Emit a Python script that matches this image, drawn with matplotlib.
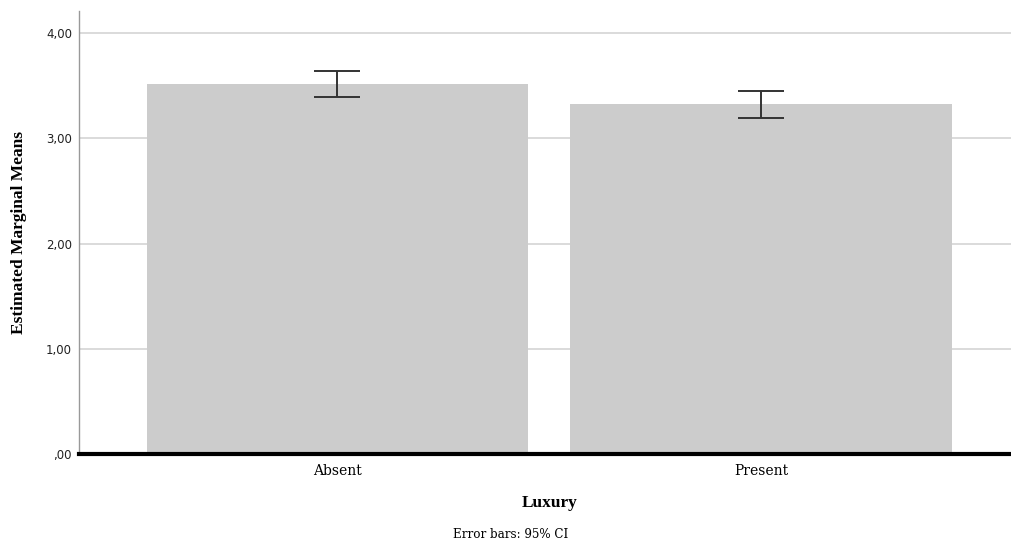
import numpy as np
import matplotlib.pyplot as plt

# Estimated marginal means of the outcome by Luxury condition
categories = ['Absent', 'Present']
means = [3.515, 3.325]
ci_low = [3.39, 3.19]
ci_high = [3.64, 3.45]
yticks = [0, 1, 2, 3, 4]
ytick_labels = [',00', '1,00', '2,00', '3,00', '4,00']

fig = plt.figure(figsize=(10.11, 5.45), dpi=100)
ax = fig.add_axes([79/1011, 91/545, 932/1011, 443/545])

x = np.arange(len(categories))
means = np.array(means)
yerr = np.array([means - np.array(ci_low), np.array(ci_high) - means])

ax.bar(x, means, width=0.9, color='#cccccc', zorder=2)
ax.errorbar(x, means, yerr=yerr, fmt='none', ecolor='#333333',
            elinewidth=1.4, capsize=16.5, capthick=1.4, zorder=3)

ax.set_xlim(-0.61, 1.59)
ax.set_ylim(0, 4.21)
ax.set_yticks(yticks)
ax.set_yticklabels(ytick_labels, fontsize=8.5, color='#222222')
ax.set_xticks(x)
ax.set_xticklabels(categories, fontsize=10, family='DejaVu Serif')
ax.tick_params(axis='both', length=0, pad=5)
ax.tick_params(axis='x', pad=7)

ax.yaxis.grid(True, color='#d4d4d4', linewidth=1.2, zorder=0)
ax.set_axisbelow(True)
for side in ['top', 'right', 'bottom']:
    ax.spines[side].set_visible(False)
ax.spines['left'].set_color('#999999')
ax.spines['left'].set_linewidth(1)
ax.axhline(0, color='black', linewidth=3, zorder=4, clip_on=False)

ax.set_ylabel('Estimated Marginal Means', fontsize=12.5, fontweight='bold',
              family='Liberation Serif', labelpad=14)
fig.text(550/1011, 1 - 503/545, 'Luxury', fontsize=12.5, fontweight='bold',
         family='Liberation Serif', ha='center', va='center')
fig.text(511/1011, 1 - 535/545, 'Error bars: 95% CI', fontsize=8.6,
         family='DejaVu Serif', ha='center', va='center')

fig.savefig('out.png', dpi=100)
